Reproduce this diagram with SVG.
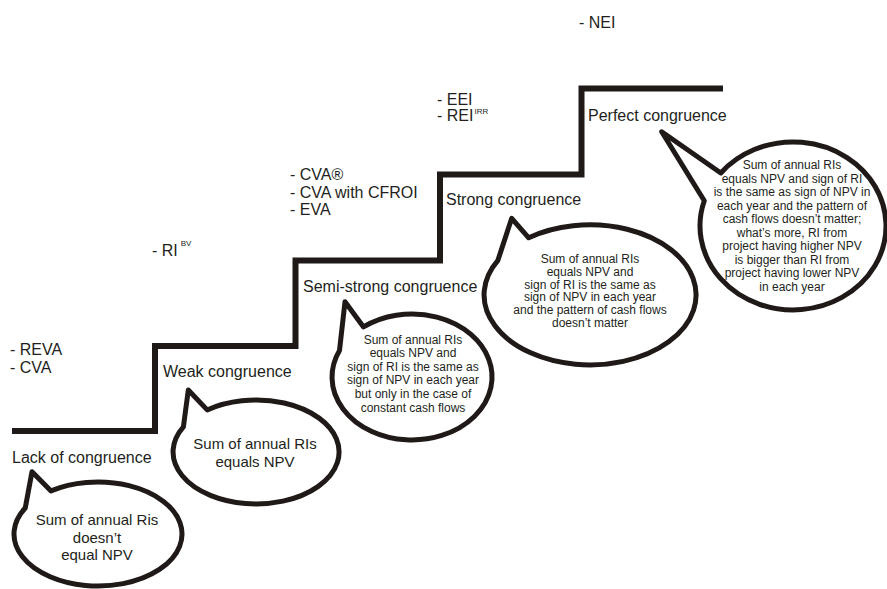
<svg xmlns="http://www.w3.org/2000/svg" width="887" height="589" viewBox="0 0 887 589">
<style>
  .t { font-family: "Liberation Sans", Arial, sans-serif; fill: #231f20; }
  .lbl { font-size: 16px; }
  .b15 { font-size: 15px; text-anchor: middle; }
  .b12 { font-size: 12px; text-anchor: middle; }
  .sup { font-size: 8px; }
  .bubble { fill: #ffffff; stroke: #1f1a17; stroke-width: 5; stroke-linejoin: round; }
  .stair { fill: none; stroke: #1f1a17; stroke-width: 6; stroke-linejoin: miter; stroke-linecap: butt; }
</style>
<rect width="887" height="589" fill="#ffffff"/>

<g id="connectors">
  <path class="stair" d="M12,431 H155 V346 H295.5 V260.5 H440 V174.5 H581.5 V88.5 H723"/>
</g>

<g id="metrics">
  <text class="t lbl" x="10" y="355">- REVA</text>
  <text class="t lbl" x="10" y="373">- CVA</text>
  <text class="t lbl" x="152" y="256">- RI<tspan class="sup" dx="3" dy="-10">BV</tspan></text>
  <text class="t lbl" x="290" y="180">- CVA®</text>
  <text class="t lbl" x="290" y="198">- CVA with CFROI</text>
  <text class="t lbl" x="290" y="215">- EVA</text>
  <text class="t lbl" x="437" y="105">- EEI</text>
  <text class="t lbl" x="437" y="121">- REI<tspan class="sup" dx="1" dy="-7">IRR</tspan></text>
  <text class="t lbl" x="579" y="28">- NEI</text>
</g>

<g id="node-lack">
  <text class="t lbl" x="12" y="463">Lack of congruence</text>
  <path class="bubble" d="M51,490.9 A84,52 0 1 1 25.25,508 L32,471.7 Z"/>
  <text class="t b15" x="97" y="525">Sum of annual Ris</text>
  <text class="t b15" x="97" y="543">doesn’t</text>
  <text class="t b15" x="97" y="560">equal NPV</text>
</g>

<g id="node-weak">
  <text class="t lbl" x="163" y="377">Weak congruence</text>
  <path class="bubble" d="M207.2,409.9 A83,52 0 1 1 183.4,426.8 L188.3,390 Z"/>
  <text class="t b15" x="255" y="449">Sum of annual RIs</text>
  <text class="t b15" x="255" y="467">equals NPV</text>
</g>

<g id="node-semistrong">
  <text class="t lbl" x="303" y="292">Semi-strong congruence</text>
  <path class="bubble" d="M363.5,326.9 A80,63 0 1 1 339.5,350.4 L345,301.7 Z"/>
  <text class="t b12" x="413" y="344">Sum of annual RIs</text>
  <text class="t b12" x="413" y="357">equals NPV and</text>
  <text class="t b12" x="413" y="370.5">sign of RI is the same as</text>
  <text class="t b12" x="413" y="383.5">sign of NPV in each year</text>
  <text class="t b12" x="413" y="398">but only in the case of</text>
  <text class="t b12" x="413" y="411.5">constant cash flows</text>
</g>

<g id="node-strong">
  <text class="t lbl" x="446" y="205">Strong congruence</text>
  <path class="bubble" d="M528.7,237.8 A106,70 0 1 1 497.9,260.3 L511.7,218.3 Z"/>
  <text class="t b12" x="590" y="263">Sum of annual RIs</text>
  <text class="t b12" x="590" y="276">equals NPV and</text>
  <text class="t b12" x="590" y="288.5">sign of RI is the same as</text>
  <text class="t b12" x="590" y="301">sign of NPV in each year</text>
  <text class="t b12" x="590" y="314">and the pattern of cash flows</text>
  <text class="t b12" x="590" y="327">doesn’t matter</text>
</g>

<g id="node-perfect">
  <text class="t lbl" x="588" y="121">Perfect congruence</text>
  <path class="bubble" d="M720.8,173 A93,84 0 1 1 704.3,200.7 L661.7,131.7 Z"/>
  <text class="t b12" x="792" y="169">Sum of annual RIs</text>
  <text class="t b12" x="792" y="182.5">equals NPV and sign of RI</text>
  <text class="t b12" x="792" y="196">is the same as sign of NPV in</text>
  <text class="t b12" x="792" y="209.5">each year and the pattern of</text>
  <text class="t b12" x="792" y="223">cash flows doesn’t matter;</text>
  <text class="t b12" x="792" y="236.5">what’s more, RI from</text>
  <text class="t b12" x="792" y="250">project having higher NPV</text>
  <text class="t b12" x="792" y="263.5">is bigger than RI from</text>
  <text class="t b12" x="792" y="277">project having lower NPV</text>
  <text class="t b12" x="792" y="290.5">in each year</text>
</g>
</svg>
